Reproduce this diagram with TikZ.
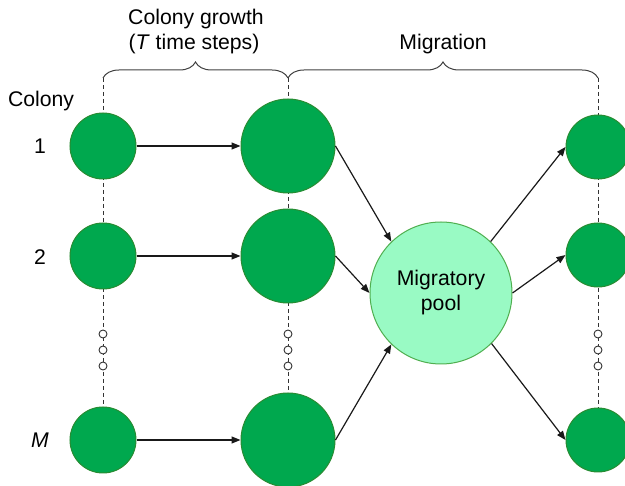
\documentclass[tikz,border=0pt]{standalone}
\usepackage{fontspec}
\setmainfont{Liberation Sans}
\usetikzlibrary{arrows.meta,decorations.pathreplacing,backgrounds}
\definecolor{colgreen}{RGB}{0,168,78}
\definecolor{colborder}{RGB}{40,140,50}
\definecolor{poolfill}{RGB}{153,250,196}
\definecolor{poolborder}{RGB}{80,175,80}
\begin{document}
\begin{tikzpicture}[x=1pt,y=-1pt,
  every node/.style={font=\fontsize{21.2}{25}\selectfont, inner sep=0pt},
  colony/.style={circle, fill=colgreen, draw=colborder, line width=1pt},
  small/.style={colony, minimum size=66pt},
  big/.style={colony, minimum size=94pt},
  right/.style={colony, minimum size=64pt},
  pool/.style={circle, fill=poolfill, draw=poolborder, line width=1pt, minimum size=142pt, align=center},
  dot/.style={circle, draw=black!80, fill=white, line width=0.9pt, minimum size=8pt},
  guide/.style={dashed, dash pattern=on 4pt off 3pt, line width=0.9pt, black!80},
  arr/.style={-{Triangle[length=9pt,width=7pt]}, line width=1.2pt, black!90},
  bracestyle/.style={decorate, decoration={brace, amplitude=16pt}, line width=1pt, black!75}
]
\useasboundingbox (0,0) rectangle (625,486);

% nodes
\node[small] (a1) at (103,146) {};
\node[small] (a2) at (103,256) {};
\node[small] (aM) at (103,440) {};
\node[big] (b1) at (288,146) {};
\node[big] (b2) at (288,256) {};
\node[big] (bM) at (288,440) {};
\node[pool] (pool) at (441,293) {Migratory\\pool};
\node[right] (c1) at (598,147) {};
\node[right] (c2) at (598,255) {};
\node[right] (cM) at (598,440) {};

% guide tops
\coordinate (ta) at (103,78);
\coordinate (tb) at (288,78);
\coordinate (tc) at (598,78);

\begin{scope}[on background layer]
\draw[guide] (ta) -- (aM.center);
\draw[guide] (tb) -- (bM.center);
\draw[guide] (tc) -- (cM.center);
\end{scope}

% ellipsis dots
\foreach \x/\n in {103/a,288/b,598/c}{
  \node[dot] (\n d1) at (\x,334) {};
  \node[dot] (\n d2) at (\x,350) {};
  \node[dot] (\n d3) at (\x,366) {};
}

% braces
\draw[bracestyle] (ta) -- (tb);
\draw[bracestyle] (tb) -- (tc);

% labels
\node (lg1) at (196,19) {Colony growth};
\node (lg2) at (194,44) {(\textit{T} time steps)};
\node (lm) at (443,44) {Migration};
\node (lc) at (41,101) {Colony};
\node (l1) at (40,146) {1};
\node (l2) at (40,257) {2};
\node (lM) at (40,440) {\textit{M}};

% arrows
\draw[arr] (a1) -- (b1);
\draw[arr] (a2) -- (b2);
\draw[arr] (aM) -- (bM);
\draw[arr] (b1.east) -- (pool.134);
\draw[arr] (b2.east) -- (pool.180);
\draw[arr] (bM.east) -- (pool.226);
\draw[arr] (pool.46) -- (c1.west);
\draw[arr] (pool.0) -- (c2.west);
\draw[arr] (pool.-45) -- (cM.west);
\end{tikzpicture}
\end{document}
